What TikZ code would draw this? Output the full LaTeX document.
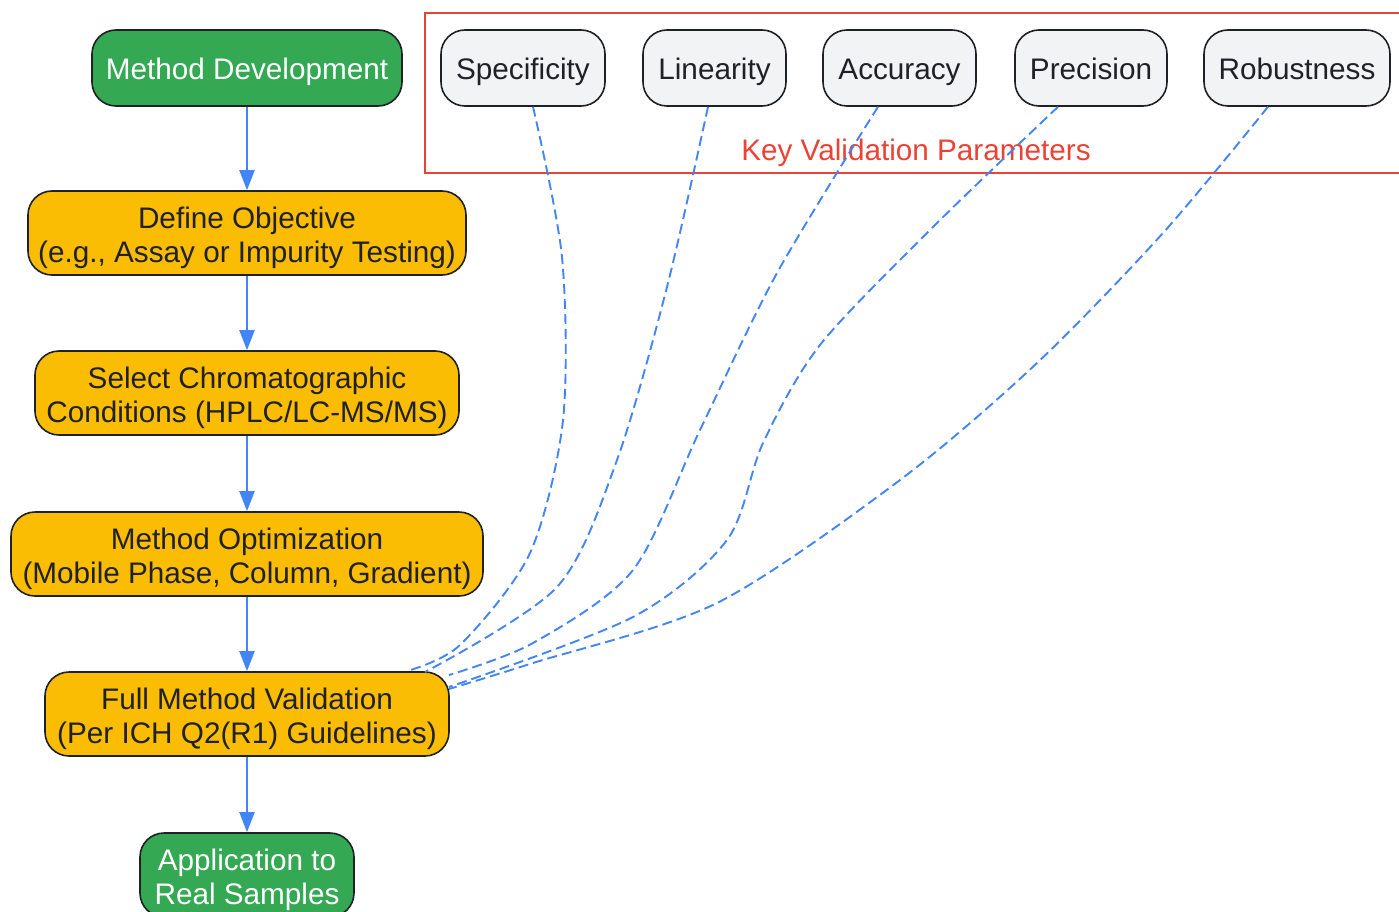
\documentclass[tikz,border=0pt]{standalone}
\usepackage{fontspec}
\setmainfont{Liberation Sans}
\usetikzlibrary{arrows.meta}
\definecolor{gGreen}{HTML}{34A853}
\definecolor{gYellow}{HTML}{FBBC04}
\definecolor{gGray}{HTML}{F1F3F4}
\definecolor{gBlue}{HTML}{4285F4}
\definecolor{gRed}{HTML}{EA4335}
\definecolor{gDark}{HTML}{202124}
\tikzset{
  box/.style={draw=gDark, line width=1.6pt, rounded corners=24pt, align=center,
    font=\fontsize{29.7}{33.5}\selectfont, inner sep=0pt, text=gDark,
    text height=30pt, text depth=6pt},
  twoline/.style={text height=64pt, text depth=6pt},
  greenbox/.style={box, fill=gGreen, text=white},
  stepbox/.style={box, twoline, fill=gYellow},
  parambox/.style={box, fill=gGray},
  flow/.style={draw=gBlue, line width=2pt, -{Triangle[length=20pt,width=15pt]}},
  link/.style={draw=gBlue, line width=1.9pt, dash pattern=on 10pt off 5pt},
}
\begin{document}
\begin{tikzpicture}[x=1pt,y=-1pt]
\useasboundingbox (0,0) rectangle (1399,912);
% red group box
\draw[gRed, line width=1.6pt] (1420,13) -- (425,13) -- (425,173) -- (1420,173);
\node[text=gRed, font=\fontsize{29.7}{33.5}\selectfont] (keylbl) at (916,153) {Key Validation Parameters};
% main flow nodes
\node[greenbox, minimum width=310pt, minimum height=76pt] (dev) at (247,68) {Method Development};
\node[stepbox, minimum width=438pt, minimum height=84pt] (obj) at (247,233) {Define Objective\\(e.g., Assay or Impurity Testing)};
\node[stepbox, minimum width=424pt, minimum height=84pt] (sel) at (247,393) {Select Chromatographic\\Conditions (HPLC/LC-MS/MS)};
\node[stepbox, minimum width=472pt, minimum height=84pt] (opt) at (247,554) {Method Optimization\\(Mobile Phase, Column, Gradient)};
\node[stepbox, minimum width=404pt, minimum height=84pt] (val) at (247,714) {Full Method Validation\\(Per ICH Q2(R1) Guidelines)};
\node[greenbox, twoline, minimum width=214pt, minimum height=84pt] (app) at (247,875) {Application to\\Real Samples};
% parameter nodes
\node[parambox, minimum width=164pt, minimum height=76pt] (spec) at (523,68) {Specificity};
\node[parambox, minimum width=143pt, minimum height=76pt] (lin) at (714.5,68) {Linearity};
\node[parambox, minimum width=153pt, minimum height=76pt] (acc) at (899.5,68) {Accuracy};
\node[parambox, minimum width=152pt, minimum height=76pt] (prec) at (1091,68) {Precision};
\node[parambox, minimum width=186pt, minimum height=76pt] (rob) at (1297,68) {Robustness};
% flow arrows
\draw[flow] (dev.south) -- (obj.north);
\draw[flow] (obj.south) -- (sel.north);
\draw[flow] (sel.south) -- (opt.north);
\draw[flow] (opt.south) -- (val.north);
\draw[flow] (val.south) -- (app.north);
% link end points
\coordinate (s1) at ([xshift=10pt]spec.south);
\coordinate (s2) at ([xshift=-6.5pt]lin.south);
\coordinate (s3) at ([xshift=-21.5pt]acc.south);
\coordinate (s4) at ([xshift=-33pt]prec.south);
\coordinate (s5) at ([xshift=-29pt]rob.south);
\coordinate (v1) at (407,671);
\coordinate (v2) at (425,672);
\coordinate (v3) at (449,675);
\coordinate (v4) at (449,687);
\coordinate (v5) at (449,689);
% dashed links
\draw[link] plot[smooth] coordinates {(s1) (562,257) (563,420) (530,553) (460,645) (v1)};
\draw[link] plot[smooth] coordinates {(s2) (667,287) (617,460) (557,587) (v2)};
\draw[link] plot[smooth] coordinates {(s3) (777,273) (700,430) (633,570) (533,643) (v3)};
\draw[link] plot[smooth] coordinates {(s4) (933,227) (820,345) (763,443) (727,540) (633,617) (v4)};
\draw[link] plot[smooth] coordinates {(s5) (1163,233) (1037,363) (900,480) (717,603) (533,663) (v5)};
\end{tikzpicture}
\end{document}
